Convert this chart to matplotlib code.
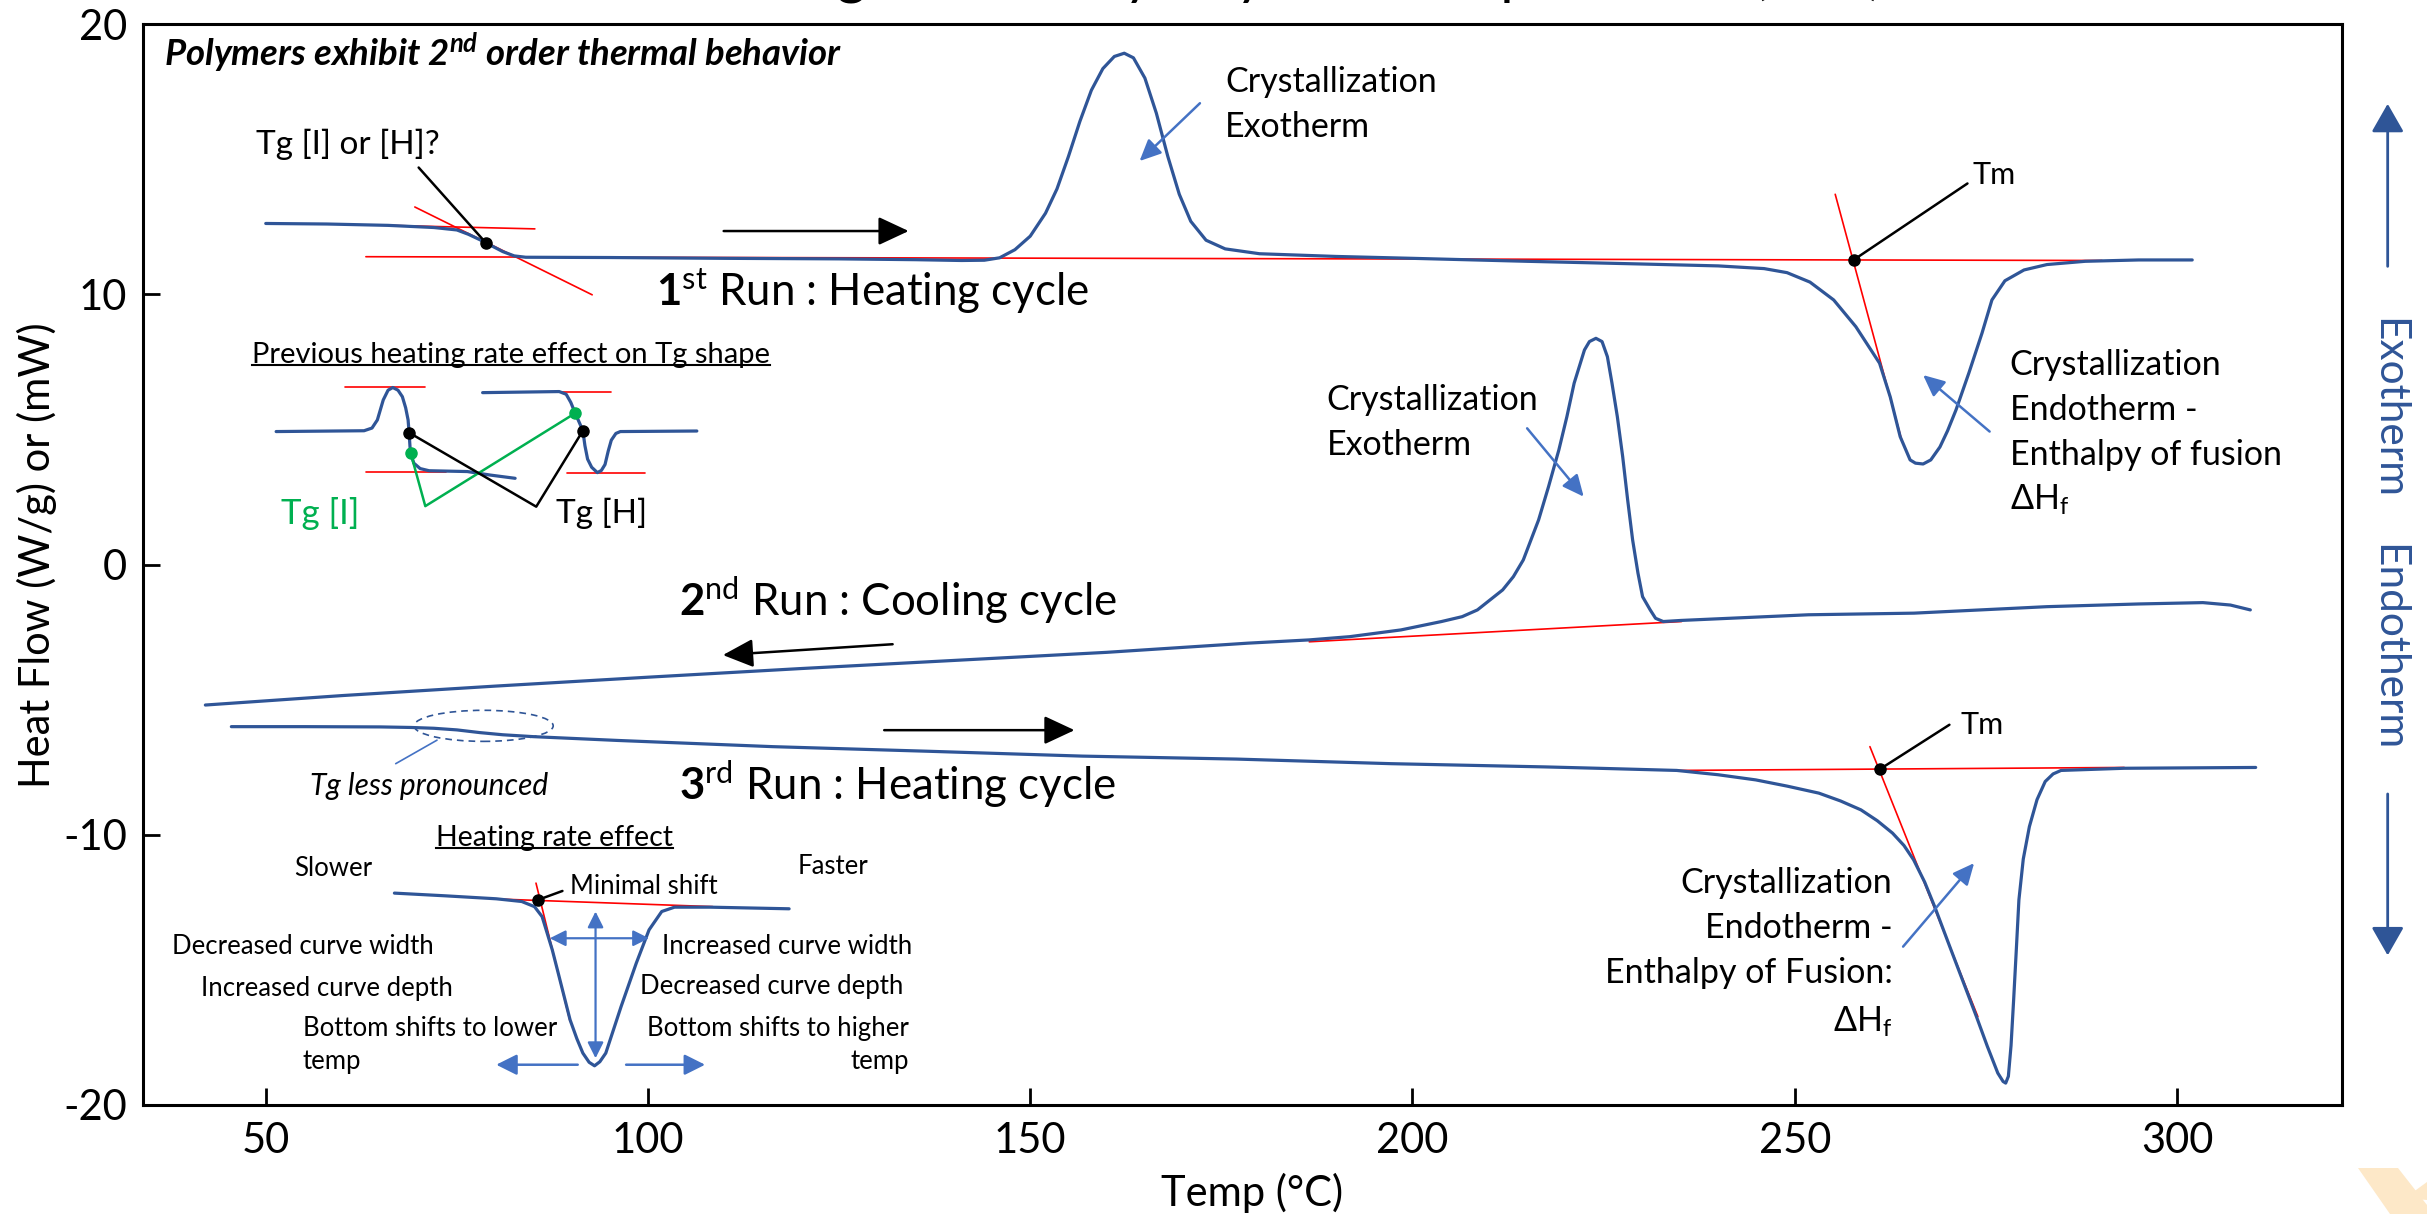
import numpy as np
import matplotlib
matplotlib.use("Agg")
import matplotlib.pyplot as plt
from matplotlib.patches import Ellipse, Polygon, FancyArrowPatch

plt.rcParams['font.family'] = ['Lato', 'DejaVu Sans']
plt.rcParams['mathtext.fontset'] = 'custom'
plt.rcParams['mathtext.rm'] = 'Lato'
plt.rcParams['mathtext.it'] = 'Lato:italic'
plt.rcParams['mathtext.bf'] = 'Lato:bold'
plt.rcParams['mathtext.bfit'] = 'Lato:bold:italic'
plt.rcParams['mathtext.fallback'] = 'stixsans'
plt.rcParams['axes.unicode_minus'] = False

# ---------------- data ----------------
x_ticks = [50, 100, 150, 200, 250, 300]
y_ticks = [-20, -10, 0, 10, 20]

run1_t = [50.0, 58, 66, 72, 75, 76.5, 78, 79.5, 81, 82.5, 84, 95, 110, 125, 135, 141, 144, 146, 148,
          150, 152, 153.5, 155, 156.5, 158, 159.5, 161, 162.3, 163.5, 165, 166.5, 168, 169.5, 171,
          173, 175.5, 180, 190, 200, 215, 230, 240, 246, 249, 252, 255.1, 258, 261.1, 262.5, 263.8,
          265.1, 265.8, 266.8, 267.8, 269, 270, 271.1, 272.8, 274.5, 275.8, 277.5, 280, 283, 288,
          295, 302]
run1_q = [12.62, 12.60, 12.55, 12.47, 12.38, 12.22, 12.02, 11.80, 11.58, 11.42, 11.37, 11.36, 11.33,
          11.31, 11.28, 11.25, 11.26, 11.35, 11.65, 12.15, 13.0, 13.9, 15.1, 16.4, 17.55, 18.35,
          18.8, 18.92, 18.75, 18.0, 16.7, 15.1, 13.7, 12.7, 12.0, 11.68, 11.5, 11.4, 11.33, 11.22,
          11.12, 11.05, 10.95, 10.8, 10.45, 9.79, 8.8, 7.45, 6.2, 4.73, 3.87, 3.75, 3.72, 3.87,
          4.35, 4.95, 5.72, 7.1, 8.56, 9.79, 10.5, 10.9, 11.1, 11.22, 11.27, 11.27]

run2_t = [42.1, 60, 80, 100, 120, 140, 160, 178.5, 186.5, 191.8, 198.5, 203.8, 206.5, 208.5, 211.8,
          213.2, 214.5, 216.5, 217.8, 219.15, 220.2, 221.15, 222.5, 223.15, 224.0, 224.8, 225.5,
          226.1, 226.8, 227.5, 228.15, 228.8, 229.5, 230.1, 231.1, 231.8, 232.8, 235.1, 251.8,
          265.6, 283.0, 295, 303.4, 307, 309.6]
run2_q = [-5.20, -4.85, -4.50, -4.17, -3.85, -3.55, -3.25, -2.91, -2.79, -2.67, -2.42, -2.11, -1.93,
          -1.68, -0.94, -0.45, 0.17, 1.65, 2.88, 4.24, 5.47, 6.71, 7.94, 8.25, 8.37, 8.25, 7.69,
          6.71, 5.47, 3.99, 2.39, 0.91, -0.32, -1.19, -1.68, -1.99, -2.11, -2.07, -1.86, -1.80,
          -1.56, -1.46, -1.41, -1.50, -1.68]

run3_t = [45.5, 55, 65, 69, 72, 75, 78, 81, 85, 96, 116.3, 136.6, 156.8, 177, 197.2, 217.4, 224.24,
          234.57, 240, 244.9, 249, 253.16, 256, 258.67, 260.8, 262.8, 264.3, 265.56, 267, 268.31,
          270.3, 272.44, 273.8, 275.2, 276.57, 277.26, 277.6, 277.95, 278.3, 278.64, 279.0, 279.33,
          279.9, 280.7, 281.7, 282.77, 283.8, 284.84, 293.1, 310.3]
run3_q = [-6.00, -6.00, -6.01, -6.03, -6.06, -6.12, -6.22, -6.30, -6.37, -6.51, -6.74, -6.91, -7.09,
          -7.20, -7.37, -7.49, -7.54, -7.62, -7.78, -7.97, -8.20, -8.46, -8.75, -9.08, -9.48, -9.94,
          -10.40, -10.93, -11.75, -12.66, -14.15, -15.74, -16.75, -17.83, -18.82, -19.13, -19.19,
          -18.94, -17.8, -16.11, -14.2, -12.41, -10.9, -9.70, -8.70, -8.03, -7.75, -7.62, -7.54, -7.51]

# inset 1: previous heating rate effect on Tg shape
insA_t = [51.36, 62.86, 63.9, 64.6, 65.37, 66.0, 66.62, 67.3, 67.87, 68.3, 68.62, 68.75, 68.87, 68.95,
          69.37, 70.2, 71.37, 76.37, 79.37, 82.62]
insA_q = [4.92, 4.95, 5.05, 5.35, 6.09, 6.45, 6.55, 6.45, 6.21, 5.8, 5.35, 4.88, 4.36, 4.13, 3.75,
          3.55, 3.47, 3.44, 3.31, 3.19]
insB_t = [78.37, 88.38, 89.3, 89.9, 90.48, 91.1, 91.48, 91.75, 92.1, 92.63, 93.38, 93.9, 94.38, 94.8,
          95.2, 95.8, 96.38, 106.39]
insB_q = [6.36, 6.40, 6.30, 6.00, 5.60, 5.20, 4.95, 4.40, 3.90, 3.60, 3.40, 3.48, 3.70, 4.20, 4.60,
          4.85, 4.92, 4.94]

# inset 2: heating rate effect
ins2_t = [66.83, 73.49, 80.15, 83.48, 85.15, 86.15, 86.81, 87.48, 88.15, 89.81, 90.7, 91.48, 92.3,
          93.01, 93.7, 94.48, 96.48, 98.47, 100.14, 101.8, 103.47, 108.14, 118.46]
ins2_q = [-12.16, -12.26, -12.37, -12.47, -12.66, -13.03, -13.64, -14.26, -15.0, -16.85, -17.55,
          -18.08, -18.42, -18.55, -18.40, -18.08, -16.36, -14.75, -13.52, -12.84, -12.68, -12.68,
          -12.74]

BLUE = '#2F5597'
ABLUE = '#4472C4'
RED = '#FF0000'
GREEN = '#00B050'

fig = plt.figure(figsize=(24.27, 12.14), dpi=100)
ax = fig.add_axes([0.0591, 0.0898, 0.9059, 0.8904])
ax.set_xlim(34.0, 321.6)
ax.set_ylim(-20, 20)
ax.set_xticks(x_ticks)
ax.set_xticklabels([str(v) for v in x_ticks])
ax.set_yticks(y_ticks)
ax.set_yticklabels([str(v) for v in y_ticks])
ax.tick_params(direction='in', length=12, width=2, labelsize=30, pad=12)
for s in ax.spines.values():
    s.set_linewidth(2.2)


def line(xs, ys, color, lw, **kw):
    ax.plot(xs, ys, color=color, lw=lw, solid_capstyle='round', solid_joinstyle='round', **kw)


def arrow(tail, head, color, lw, ms, style='-|>,head_length=0.75,head_width=0.35'):
    ax.annotate('', xy=head, xytext=tail,
                arrowprops=dict(arrowstyle=style, color=color, lw=lw, mutation_scale=ms,
                                shrinkA=0, shrinkB=0))


def dot(x, y, color='black', ms=8):
    ax.plot([x], [y], 'o', color=color, ms=ms, zorder=6)


# ----- red construction lines (under curves) -----
line([63.1, 290.2], [11.39, 11.25], RED, 1.2)
line([63.1, 85.2], [12.57, 12.42], RED, 1.2)
line([69.5, 92.7], [13.23, 9.98], RED, 1.2)
line([255.3, 264.0], [13.7, 4.6], RED, 1.2)
line([186.5, 235.2], [-2.86, -2.11], RED, 1.2)
line([234.57, 293.1], [-7.62, -7.51], RED, 1.2)
line([259.84, 273.96], [-6.74, -16.73], RED, 1.2)

# ----- main curves -----
line(run1_t, run1_q, BLUE, 2.3)
line(run2_t, run2_q, BLUE, 2.3)
line(run3_t, run3_q, BLUE, 2.3)

# ----- 1st run annotations -----
dot(78.8, 11.9)
line([78.8, 70.0], [11.9, 14.69], 'black', 1.8)
ax.text(60.7, 15.55, 'Tg [I] or [H]?', fontsize=24, ha='center', va='center')
arrow((109.9, 12.34), (134.1, 12.34), 'black', 1.8, 25)
ax.text(101.0, 10.1, r'$\mathbf{1}^{\mathrm{st}}$ Run : Heating cycle', fontsize=31.5,
        ha='left', va='center')
ax.text(175.5, 17.87, 'Crystallization', fontsize=24.5, ha='left', va='center')
ax.text(175.5, 16.2, 'Exotherm', fontsize=24.5, ha='left', va='center')
arrow((172.2, 17.07), (164.3, 14.93), ABLUE, 1.8, 20, '-|>,head_length=0.65,head_width=0.3')
dot(257.7, 11.27)
line([257.7, 272.6], [11.27, 14.1], 'black', 1.8)
ax.text(273.3, 14.41, 'Tm', fontsize=22, ha='left', va='center')
for txt, yy in [('Crystallization', 7.38), ('Endotherm -', 5.72), ('Enthalpy of fusion', 4.05),
                (r'$\Delta$H$_{\mathrm{f}}$', 2.39)]:
    ax.text(278.1, yy, txt, fontsize=24.5, ha='left', va='center')
arrow((275.5, 4.92), (266.8, 7.01), ABLUE, 1.8, 20, '-|>,head_length=0.65,head_width=0.3')

# ----- 2nd run annotations -----
arrow((132.0, -2.95), (109.8, -3.35), 'black', 1.8, 25)
ax.text(104.0, -1.33, r'$\mathbf{2}^{\mathrm{nd}}$ Run : Cooling cycle', fontsize=31.5,
        ha='left', va='center')
ax.text(188.8, 6.09, 'Crystallization', fontsize=24.5, ha='left', va='center')
ax.text(188.8, 4.42, 'Exotherm', fontsize=24.5, ha='left', va='center')
arrow((215.0, 5.04), (222.4, 2.51), ABLUE, 1.8, 20, '-|>,head_length=0.65,head_width=0.3')

# ----- 3rd run annotations -----
arrow((130.9, -6.13), (155.8, -6.13), 'black', 1.8, 25)
ax.text(104.0, -8.15, r'$\mathbf{3}^{\mathrm{rd}}$ Run : Heating cycle', fontsize=31.5,
        ha='left', va='center')
ax.add_patch(Ellipse((78.5, -5.97), 18.2, 1.15, fill=False, ls=(0, (4, 3)), ec=BLUE, lw=1.2))
line([72.4, 67.0], [-6.5, -7.37], ABLUE, 1.2)
ax.text(71.4, -8.21, 'Tg less pronounced', fontsize=21.5, style='italic', ha='center', va='center')
dot(261.22, -7.56)
line([261.22, 270.24], [-7.56, -5.93], 'black', 1.8)
ax.text(271.75, -5.93, 'Tm', fontsize=22, ha='left', va='center')
for txt, yy in [('Crystallization', -11.79), ('Endotherm -', -13.46), ('Enthalpy of Fusion:', -15.12),
                (r'$\Delta$H$_{\mathrm{f}}$', -16.91)]:
    ax.text(262.8, yy, txt, fontsize=24.5, ha='right', va='center')
arrow((264.18, -14.14), (273.47, -11.05), ABLUE, 1.8, 20, '-|>,head_length=0.65,head_width=0.3')

# ----- header text -----
ax.text(36.7, 18.93, r'Polymers exhibit 2${}^{\mathbfit{nd}}$ order thermal behavior', fontsize=26.3,
        fontweight='bold', style='italic', ha='left', va='center')

# ----- inset 1 -----
line([60.36, 70.87], [6.58, 6.58], RED, 1.2)
line([63.11, 73.62], [3.44, 3.44], RED, 1.2)
line([84.88, 95.13], [6.40, 6.40], RED, 1.2)
line([89.38, 99.63], [3.38, 3.38], RED, 1.2)
line(insA_t, insA_q, BLUE, 2.3)
line(insB_t, insB_q, BLUE, 2.3)
line([68.95, 70.87, 90.48], [4.13, 2.16, 5.6], GREEN, 1.8)
line([68.75, 85.38, 91.48], [4.88, 2.14, 4.95], 'black', 1.8)
dot(68.75, 4.88, 'black', 8)
dot(91.48, 4.95, 'black', 8)
dot(68.95, 4.13, GREEN, 8)
dot(90.48, 5.6, GREEN, 8)
t_ins1 = ax.text(82.1, 7.75, 'Previous heating rate effect on Tg shape', fontsize=21,
                 ha='center', va='center')
ax.text(57.1, 1.9, 'Tg [I]', fontsize=25, color=GREEN, ha='center', va='center')
ax.text(93.9, 1.9, 'Tg [H]', fontsize=24, color='black', ha='center', va='center')

# ----- inset 2 -----
line([79.48, 108.47], [-12.37, -12.66], RED, 1.2)
line([85.35, 89.81], [-11.79, -16.91], RED, 1.2)
line(ins2_t, ins2_q, BLUE, 2.3)
dot(85.62, -12.41, 'black', 8)
line([85.62, 88.81], [-12.41, -12.08], 'black', 1.8)
dbl = '<|-|>,head_length=0.6,head_width=0.3'
arrow((87.15, -13.83), (100.14, -13.83), ABLUE, 1.6, 16, dbl)
arrow((93.14, -12.84), (93.14, -18.27), ABLUE, 1.6, 16, dbl)
arrow((90.81, -18.51), (80.15, -18.51), ABLUE, 1.8, 18, '-|>,head_length=0.7,head_width=0.35')
arrow((97.14, -18.51), (107.47, -18.51), ABLUE, 1.8, 18, '-|>,head_length=0.7,head_width=0.35')
t_ins2 = ax.text(87.8, -10.13, 'Heating rate effect', fontsize=20.5, ha='center', va='center')
ax.text(58.83, -11.24, 'Slower', fontsize=18.5, ha='center', va='center')
ax.text(124.26, -11.18, 'Faster', fontsize=18.5, ha='center', va='center')
ax.text(89.81, -11.92, 'Minimal shift', fontsize=18.5, ha='left', va='center')
ax.text(54.83, -14.14, 'Decreased curve width', fontsize=18.5, ha='center', va='center')
ax.text(58.03, -15.68, 'Increased curve depth', fontsize=18.5, ha='center', va='center')
ax.text(54.83, -17.16, 'Bottom shifts to lower', fontsize=18.5, ha='left', va='center')
ax.text(54.83, -18.39, 'temp', fontsize=18.5, ha='left', va='center')
ax.text(118.26, -14.14, 'Increased curve width', fontsize=18.5, ha='center', va='center')
ax.text(116.13, -15.62, 'Decreased curve depth', fontsize=18.5, ha='center', va='center')
ax.text(134.12, -17.16, 'Bottom shifts to higher', fontsize=18.5, ha='right', va='center')
ax.text(134.12, -18.39, 'temp', fontsize=18.5, ha='right', va='center')

# ----- figure-level texts -----
fig.text(0.494, 1 + 6 / 1214, 'DSC Thermogram of Polyethylene Terephthalate (PET)', fontsize=41,
         ha='center', va='baseline')
fig.text(0.0152, 0.543, 'Heat Flow (W/g) or (mW)', fontsize=30, rotation=90, ha='center', va='center')
fig.text(0.516, 0.017, 'Temp (°C)', fontsize=30, ha='center', va='center')
fig.text(0.9838, 0.6633, 'Exotherm', fontsize=30.5, rotation=-90, color=BLUE,
         ha='center', va='center')
fig.text(0.9838, 0.4666, 'Endotherm', fontsize=30.5, rotation=-90, color=BLUE,
         ha='center', va='center')
for a, b in [((0.9838, 0.7806), (0.9838, 0.9145)), ((0.9838, 0.346), (0.9838, 0.213))]:
    fig.add_artist(FancyArrowPatch(a, b, transform=fig.transFigure,
                                   arrowstyle='-|>,head_length=0.7,head_width=0.4',
                                   mutation_scale=25, lw=2, color=BLUE, shrinkA=0, shrinkB=0))

# faint logo fragment in the corner
W, H = 2427.0, 1214.0
for pts in [[(2358, 1168), (2398, 1168), (2427, 1205), (2427, 1214), (2390, 1214)],
            [(2405, 1198), (2427, 1182), (2427, 1200)]]:
    fig.add_artist(Polygon([(x / W, 1 - y / H) for x, y in pts], closed=True,
                           transform=fig.transFigure, fc='#FDE8C8', ec='none'))

# underlines of inset titles
fig.canvas.draw()
r = fig.canvas.get_renderer()
inv = ax.transData.inverted()
for t in (t_ins1, t_ins2):
    bb = t.get_window_extent(r)
    (x0, y0) = inv.transform((bb.x0, bb.y0 + 3))
    (x1, _) = inv.transform((bb.x1, bb.y0 + 3))
    ax.plot([x0, x1], [y0, y0], color='black', lw=1.5)

fig.savefig('out.png', dpi=100)
